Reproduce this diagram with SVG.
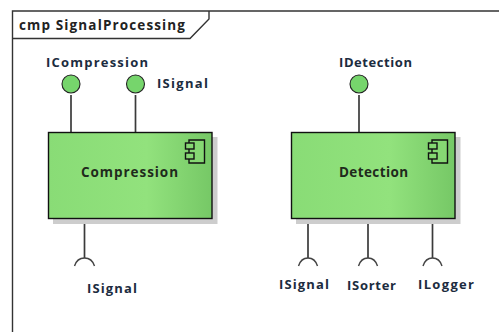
<svg xmlns="http://www.w3.org/2000/svg" width="499" height="332" viewBox="0 0 499 332">
<style>
text{font-family:"Open Sans","Liberation Sans",Arial,sans-serif;font-weight:bold;font-size:13px;fill:#1c2c40}
.n{fill:#1f2a1c;font-size:13.500px}
.f{fill:none;stroke:#333;stroke-width:1.400}
.c{fill:none;stroke:#3a3a3a;stroke-width:1.700}
.r{fill:none;stroke:#444;stroke-width:1.400}
.b{fill:url(#g);stroke:#111;stroke-width:1.400}
.s{fill:#cdcdcd}
.l{fill:#76d56c;stroke:#222;stroke-width:1.100}
.i{fill:#86d873;stroke:#111;stroke-width:1.400}
</style>
<defs>
<linearGradient id="g" x1="0" x2="1" y1="0" y2="0">
<stop offset="0" stop-color="#89dc76"/><stop offset="0.6" stop-color="#92e27d"/><stop offset="1" stop-color="#76c866"/>
</linearGradient>
</defs>
<rect width="499" height="332" fill="#fff"/>
<g id="frame">
<path class="f" d="M499 11H12.500V332"/>
<path class="f" d="M12.500 38.500H190L209 19V11"/>
<text x="19" y="30" textLength="166" style="font-size:13.500px;fill:#222">cmp SignalProcessing</text>
</g>
<g id="connectors">
<path class="c" d="M71 95V132"/>
<path class="c" d="M135.500 95V132"/>
<path class="c" d="M84.500 218V258"/>
<path class="c" d="M359 95V132"/>
<path class="c" d="M308 218V258"/>
<path class="c" d="M368 218V258"/>
<path class="c" d="M432.500 218V258"/>
</g>
<g id="Compression">
<rect class="s" x="53" y="137" width="164.500" height="87"/>
<rect class="b" x="48.500" y="132.500" width="163.500" height="86"/>
<path class="i" d="M189 140H204.500V163H189Z"/>
<rect class="i" x="185.500" y="143" width="8.500" height="6"/>
<rect class="i" x="185.500" y="153" width="8.500" height="6"/>
<text class="n" x="81" y="177" textLength="97">Compression</text>
</g>
<g id="Detection">
<rect class="s" x="296" y="137" width="164.500" height="87"/>
<rect class="b" x="291.500" y="132.500" width="163.500" height="86"/>
<path class="i" d="M432 140H447.500V163H432Z"/>
<rect class="i" x="428.500" y="143" width="8.500" height="6"/>
<rect class="i" x="428.500" y="153" width="8.500" height="6"/>
<text class="n" x="339" y="177" textLength="69">Detection</text>
</g>
<g id="ICompression">
<circle class="l" cx="71" cy="84" r="9"/>
<text x="46" y="67" textLength="102">ICompression</text>
</g>
<g id="ISignalProvided">
<circle class="l" cx="135.500" cy="84" r="9"/>
<text x="157" y="88" textLength="51">ISignal</text>
</g>
<g id="IDetection">
<circle class="l" cx="359" cy="84" r="9"/>
<text x="339" y="67" textLength="73">IDetection</text>
</g>
<g id="ISignalRequired1">
<path class="r" d="M74.500 266Q77 258 84.500 258Q92 258 94.500 266"/>
<text x="87" y="293" textLength="50">ISignal</text>
</g>
<g id="ISignalRequired2">
<path class="r" d="M298.500 266Q301 258 308 258Q315 258 317.500 266"/>
<text x="279" y="289" textLength="50">ISignal</text>
</g>
<g id="ISorter">
<path class="r" d="M358.500 266Q361 258 368 258Q375 258 377.500 266"/>
<text x="347" y="290" textLength="49">ISorter</text>
</g>
<g id="ILogger">
<path class="r" d="M423 266Q425.500 258 432.500 258Q439.500 258 442 266"/>
<text x="418" y="289" textLength="56">ILogger</text>
</g>
</svg>
